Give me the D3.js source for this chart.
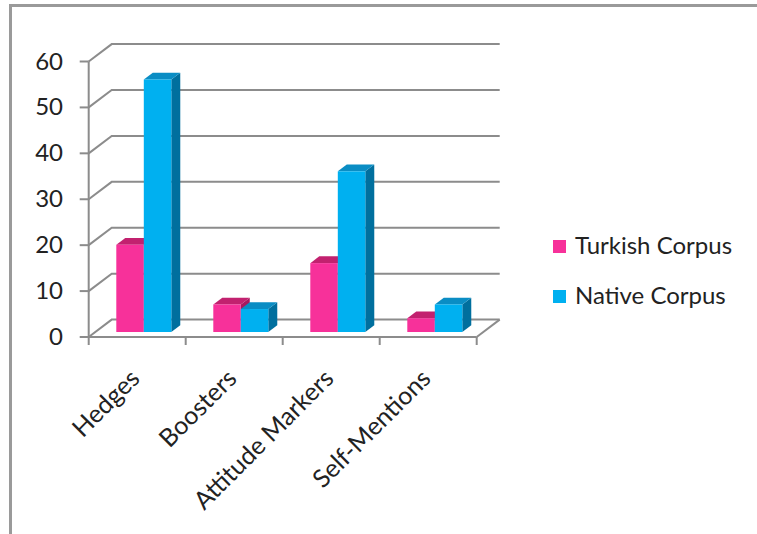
<!DOCTYPE html>
<html>
<head>
<meta charset="utf-8">
<script src="https://cdn.jsdelivr.net/npm/d3@7"></script>
<style>
  html, body { margin: 0; padding: 0; background: #fff; }
  svg { display: block; }
  text { font-family: Lato, "Open Sans", sans-serif; fill: #222; }
</style>
</head>
<body>
<svg id="chart" width="757" height="534"></svg>
<script>
// ---- data ----
const categories = ["Hedges", "Boosters", "Attitude Markers", "Self-Mentions"];
const seriesNames = ["Turkish Corpus", "Native Corpus"];
const turkishValues = [19, 6, 15, 3];
const nativeValues = [55, 5, 35, 6];
const yTickValues = [0, 10, 20, 30, 40, 50, 60];

// ---- styles ----
const colors = {
  "Turkish Corpus": { front: "#F7319A", top: "#C2216F", side: "#A8185E" },
  "Native Corpus":  { front: "#00B0F0", top: "#0A8DC4", side: "#006F9E" }
};
const gridColor = "#8c8c8c";

const svg = d3.select("#chart");

// frame
svg.append("rect")
  .attr("x", 10.5).attr("y", 5.5)
  .attr("width", 900).attr("height", 700)
  .attr("fill", "none").attr("stroke", "#9a9a9a").attr("stroke-width", 3);

// ---- scales ----
const x = d3.scaleBand().domain(categories).range([88.7, 476.7]).paddingInner(0).paddingOuter(0);
const inner = d3.scaleBand().domain(seriesNames).range([21, x.bandwidth() - 21]).padding(0);
const y = d3.scaleLinear().domain([0, 60]).range([337, 61.5]);

// depth projection (full depth of the plot box)
const DX = 23, DY = -17.4;
const proj = (px, py, d) => [px + DX * d, py + DY * d];

const g = svg.append("g");

// back wall gridlines + side wall diagonals
yTickValues.forEach(v => {
  const front = [x.range()[0], y(v)];
  const back = proj(front[0], front[1], 1);
  const backRight = proj(x.range()[1], y(v), 1);
  g.append("path")
    .attr("d", d3.line()([front, back, backRight]))
    .attr("fill", "none").attr("stroke", gridColor).attr("stroke-width", 2);
});

// floor: right edge diagonal
{
  const fr = [x.range()[1], y(0)];
  g.append("path")
    .attr("d", d3.line()([fr, proj(fr[0], fr[1], 1)]))
    .attr("fill", "none").attr("stroke", gridColor).attr("stroke-width", 2);
}

// front floor line (category axis) with ticks
g.append("line")
  .attr("x1", x.range()[0]).attr("x2", x.range()[1])
  .attr("y1", y(0)).attr("y2", y(0))
  .attr("stroke", gridColor).attr("stroke-width", 2);
const catTicks = categories.map(c => x(c)).concat([x.range()[1]]);
g.selectAll(".ctick").data(catTicks).join("line")
  .attr("x1", d => d).attr("x2", d => d)
  .attr("y1", y(0)).attr("y2", y(0) + 8)
  .attr("stroke", gridColor).attr("stroke-width", 2);

// value axis line + ticks
g.append("line")
  .attr("x1", x.range()[0]).attr("x2", x.range()[0])
  .attr("y1", y(60)).attr("y2", y(0))
  .attr("stroke", gridColor).attr("stroke-width", 2);
g.selectAll(".ytick").data(yTickValues).join("line")
  .attr("x1", x.range()[0] - 9).attr("x2", x.range()[0])
  .attr("y1", d => y(d)).attr("y2", d => y(d))
  .attr("stroke", gridColor).attr("stroke-width", 2);
g.selectAll(".ylab").data(yTickValues).join("text")
  .attr("x", 63).attr("y", d => y(d) + 2)
  .attr("text-anchor", "end").attr("dominant-baseline", "middle")
  .attr("font-size", 24)
  .text(d => d);

// ---- bars ----
const D0 = 0.287, DB = 0.39;
const bars = [];
categories.forEach((c, i) => {
  bars.push({ cat: c, s: seriesNames[0], v: turkishValues[i] });
  bars.push({ cat: c, s: seriesNames[1], v: nativeValues[i] });
});
const barG = svg.append("g");
bars.forEach(b => {
  const x0 = x(b.cat) + inner(b.s);
  const x1 = x0 + inner.bandwidth();
  const [fx0, fyb] = proj(x0, y(0), D0);
  const [fx1, fyt] = proj(x1, y(b.v), D0);
  const dx = DX * DB, dy = DY * DB;
  const col = colors[b.s];
  barG.append("path")
    .attr("d", d3.line()([[fx1, fyt], [fx1 + dx, fyt + dy], [fx1 + dx, fyb + dy], [fx1, fyb]]) + "Z")
    .attr("fill", col.side);
  barG.append("path")
    .attr("d", d3.line()([[fx0, fyt], [fx0 + dx, fyt + dy], [fx1 + dx, fyt + dy], [fx1, fyt]]) + "Z")
    .attr("fill", col.top);
  barG.append("rect")
    .attr("x", fx0).attr("y", fyt)
    .attr("width", fx1 - fx0).attr("height", fyb - fyt)
    .attr("fill", col.front);
});

// ---- category labels ----
svg.selectAll(".clab").data(categories).join("text")
  .attr("transform", d => `translate(${x(d) + x.bandwidth() / 2 + 4},380) rotate(-45)`)
  .attr("text-anchor", "end")
  .attr("font-size", 25)
  .text(d => d);

// ---- legend ----
const legendBaselines = [254, 304];
const leg = svg.append("g");
seriesNames.forEach((s, i) => {
  leg.append("rect")
    .attr("x", 553).attr("y", legendBaselines[i] - 14)
    .attr("width", 13).attr("height", 13)
    .attr("fill", colors[s].front);
  leg.append("text")
    .attr("x", 575).attr("y", legendBaselines[i])
    .attr("font-size", 24)
    .text(s);
});
</script>
</body>
</html>
